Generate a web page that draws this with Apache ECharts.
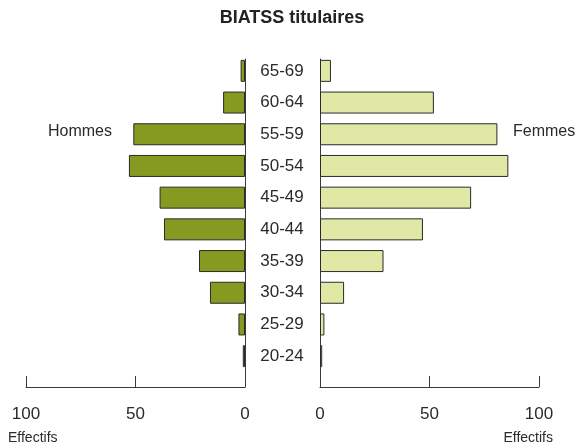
<!DOCTYPE html>
<html>
<head>
<meta charset="utf-8">
<script src="https://cdn.jsdelivr.net/npm/echarts@6/dist/echarts.min.js"></script>
<style>
  html, body { margin: 0; padding: 0; background: #fff; }
  #chart { width: 584px; height: 447px; }
</style>
</head>
<body>
<div id="chart"></div>
<script>
// age groups, bottom to top
const ageGroups = ['20-24', '25-29', '30-34', '35-39', '40-44', '45-49', '50-54', '55-59', '60-64', '65-69']
const hommes = [1, 3, 16, 21, 37, 39, 53, 51, 10, 2]
const femmes = [1, 2, 11, 29, 47, 69, 86, 81, 52, 5]
const tickMax = 100
const tickStep = 50

const font = '"Liberation Sans", Arial, sans-serif'
const textColor = '#2a2a2a'
const lineColor = '#3a3a3a'

const chart = echarts.init(document.getElementById('chart'), null, { renderer: 'canvas' })

// grids 0/1 hold the bars, grids 2/3 draw the frame (zero line + bottom axis)
const grids = [
  { left: 26, right: 339, top: 55, bottom: 75 },
  { left: 320, right: 45, top: 55, bottom: 75 },
  { left: 26, right: 339, top: 59, bottom: 60 },
  { left: 320, right: 45, top: 59, bottom: 60 }
]

function hiddenValueAxis(gridIndex, inverse) {
  return { type: 'value', gridIndex, min: 0, max: tickMax, inverse, show: false }
}

function frameXAxis(gridIndex, inverse) {
  return {
    type: 'value',
    gridIndex,
    min: 0,
    max: tickMax,
    interval: tickStep,
    inverse,
    axisLine: { show: true, lineStyle: { color: lineColor, width: 1 } },
    axisTick: { show: true, inside: true, length: 11, lineStyle: { color: lineColor, width: 1 } },
    axisLabel: { margin: 19, color: textColor, fontSize: 17, fontFamily: font },
    splitLine: { show: false }
  }
}

function frameYAxis(gridIndex, position) {
  return {
    type: 'value',
    gridIndex,
    min: 0,
    max: 1,
    position,
    axisLine: { show: true, lineStyle: { color: lineColor, width: 1 } },
    axisTick: { show: false },
    axisLabel: { show: false },
    splitLine: { show: false }
  }
}

const option = {
  animation: false,
  backgroundColor: '#fff',
  title: [
    {
      text: 'BIATSS titulaires',
      left: 'center',
      top: 9,
      padding: 0,
      textStyle: { fontSize: 18, fontWeight: 'bold', color: '#222', fontFamily: font }
    },
    { text: 'Hommes', left: 48, top: 124, padding: 0, textStyle: { fontSize: 16, fontWeight: 'normal', color: textColor, fontFamily: font } },
    { text: 'Femmes', left: 513, top: 124, padding: 0, textStyle: { fontSize: 16, fontWeight: 'normal', color: textColor, fontFamily: font } },
    { text: 'Effectifs', left: 8, top: 431, padding: 0, textStyle: { fontSize: 14, fontWeight: 'normal', color: textColor, fontFamily: font } },
    { text: 'Effectifs', right: 31, top: 431, padding: 0, textStyle: { fontSize: 14, fontWeight: 'normal', color: textColor, fontFamily: font } }
  ],
  grid: grids,
  xAxis: [
    hiddenValueAxis(0, true),
    hiddenValueAxis(1, false),
    frameXAxis(2, true),
    frameXAxis(3, false)
  ],
  yAxis: [
    {
      type: 'category',
      gridIndex: 0,
      data: ageGroups,
      position: 'right',
      axisLine: { show: false },
      axisTick: { show: false },
      axisLabel: { show: false }
    },
    {
      type: 'category',
      gridIndex: 1,
      data: ageGroups,
      position: 'left',
      axisLine: { show: false },
      axisTick: { show: false },
      axisLabel: { margin: 38, align: 'center', color: textColor, fontSize: 17, fontFamily: font }
    },
    frameYAxis(2, 'right'),
    frameYAxis(3, 'left')
  ],
  series: [
    {
      name: 'Hommes',
      type: 'bar',
      xAxisIndex: 0,
      yAxisIndex: 0,
      data: hommes,
      barWidth: 22,
      itemStyle: { color: '#869a22', borderColor: '#2a2a2a', borderWidth: 1 }
    },
    {
      name: 'Femmes',
      type: 'bar',
      xAxisIndex: 1,
      yAxisIndex: 1,
      data: femmes,
      barWidth: 22,
      itemStyle: { color: '#dfe8a4', borderColor: '#2a2a2a', borderWidth: 1 }
    }
  ]
}

chart.setOption(option)
</script>
</body>
</html>
